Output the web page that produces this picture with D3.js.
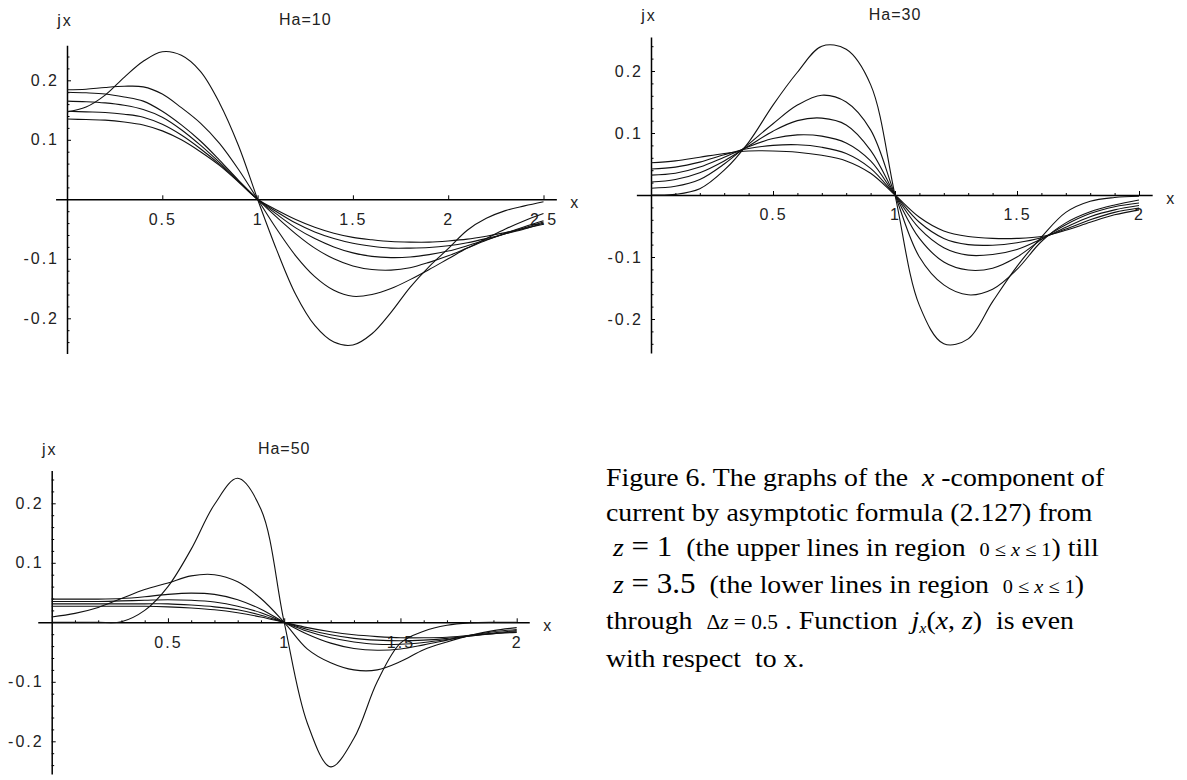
<!DOCTYPE html>
<html>
<head>
<meta charset="utf-8">
<script src="https://cdn.jsdelivr.net/npm/d3@7"></script>
<style>
  html, body { margin: 0; padding: 0; background: #fff; }
  svg { display: block; }
  .tick text, .lbl { font-family: "Liberation Sans", Arial, sans-serif; font-size: 16px; letter-spacing: 2px; fill: #222; }
  .domain { stroke: #000; stroke-width: 1.5px; }
  .tick line { stroke: #000; stroke-width: 1px; }
  .curve { fill: none; stroke: #111; stroke-width: 1.1px; }
  .caption { font-family: "Liberation Serif", "Times New Roman", serif; font-size: 26px; fill: #000; }
</style>
</head>
<body>
<svg id="chart" width="1187" height="780"></svg>
<script>
// x grids of the sampled curves
const xs25 = [0, 0.1, 0.2, 0.3, 0.4, 0.5, 0.6, 0.7, 0.8, 0.9, 1, 1.1, 1.2, 1.3, 1.4, 1.5, 1.6, 1.7, 1.8, 1.9, 2, 2.1, 2.2, 2.3, 2.4, 2.5];
const xs20 = [0, 0.1, 0.2, 0.3, 0.4, 0.5, 0.6, 0.7, 0.8, 0.9, 1, 1.1, 1.2, 1.3, 1.4, 1.5, 1.6, 1.7, 1.8, 1.9, 2];

// Ha=10, z = 1 .. 3.5
const ha10_z10 = [0.147, 0.155, 0.175, 0.205, 0.232, 0.248, 0.242, 0.215, 0.162, 0.09, 0, -0.085, -0.16, -0.212, -0.24, -0.245, -0.226, -0.19, -0.148, -0.113, -0.083, -0.052, -0.032, -0.019, -0.011, -0.004];
const ha10_z15 = [0.184, 0.185, 0.188, 0.19, 0.189, 0.177, 0.154, 0.128, 0.094, 0.05, 0, -0.05, -0.095, -0.13, -0.153, -0.163, -0.16, -0.15, -0.135, -0.118, -0.1, -0.082, -0.066, -0.05, -0.036, -0.024];
const ha10_z20 = [0.18, 0.179, 0.177, 0.172, 0.165, 0.148, 0.125, 0.098, 0.066, 0.032, 0, -0.03, -0.058, -0.082, -0.1, -0.112, -0.118, -0.119, -0.115, -0.106, -0.095, -0.082, -0.069, -0.057, -0.046, -0.036];
const ha10_z25 = [0.165, 0.164, 0.162, 0.158, 0.151, 0.138, 0.117, 0.091, 0.062, 0.031, 0, -0.025, -0.048, -0.066, -0.08, -0.09, -0.096, -0.098, -0.097, -0.093, -0.087, -0.078, -0.068, -0.058, -0.048, -0.038];
const ha10_z30 = [0.148, 0.147, 0.146, 0.143, 0.138, 0.126, 0.108, 0.085, 0.059, 0.03, 0, -0.021, -0.04, -0.055, -0.066, -0.074, -0.079, -0.082, -0.082, -0.081, -0.078, -0.073, -0.066, -0.058, -0.05, -0.04];
const ha10_z35 = [0.135, 0.134, 0.133, 0.13, 0.125, 0.115, 0.1, 0.08, 0.057, 0.029, 0, -0.018, -0.034, -0.047, -0.057, -0.064, -0.068, -0.071, -0.072, -0.072, -0.07, -0.067, -0.062, -0.056, -0.049, -0.042];

// Ha=30
const ha30_z10 = [0, 0.001, 0.01, 0.04, 0.085, 0.145, 0.198, 0.24, 0.235, 0.178, 0, -0.178, -0.24, -0.232, -0.172, -0.115, -0.068, -0.028, -0.01, -0.004, -0.002];
const ha30_z15 = [0.011, 0.014, 0.025, 0.05, 0.082, 0.115, 0.145, 0.161, 0.15, 0.105, 0, -0.1, -0.145, -0.161, -0.152, -0.12, -0.075, -0.045, -0.027, -0.016, -0.008];
const ha30_z20 = [0.021, 0.025, 0.036, 0.055, 0.079, 0.103, 0.12, 0.124, 0.113, 0.072, 0, -0.07, -0.108, -0.121, -0.118, -0.1, -0.072, -0.048, -0.03, -0.019, -0.013];
const ha30_z25 = [0.032, 0.035, 0.045, 0.061, 0.078, 0.091, 0.097, 0.095, 0.084, 0.055, 0, -0.054, -0.085, -0.097, -0.096, -0.088, -0.071, -0.052, -0.035, -0.024, -0.017];
const ha30_z30 = [0.042, 0.045, 0.053, 0.065, 0.075, 0.08, 0.081, 0.077, 0.067, 0.043, 0, -0.044, -0.07, -0.08, -0.081, -0.077, -0.069, -0.055, -0.04, -0.028, -0.021];
const ha30_z35 = [0.052, 0.055, 0.061, 0.067, 0.071, 0.071, 0.069, 0.064, 0.055, 0.035, 0, -0.036, -0.058, -0.067, -0.07, -0.07, -0.067, -0.057, -0.044, -0.032, -0.024];

// Ha=50
const ha50_z10 = [0, 0, 0, 0.001, 0.02, 0.06, 0.123, 0.198, 0.242, 0.19, 0, -0.17, -0.243, -0.195, -0.1, -0.035, -0.015, -0.005, -0.001, 0, 0];
const ha50_z15 = [0.009, 0.015, 0.025, 0.04, 0.055, 0.066, 0.078, 0.08, 0.068, 0.04, 0, -0.045, -0.068, -0.08, -0.08, -0.066, -0.046, -0.033, -0.022, -0.014, -0.009];
const ha50_z20 = [0.039, 0.039, 0.039, 0.04, 0.043, 0.047, 0.049, 0.047, 0.038, 0.022, 0, -0.02, -0.035, -0.044, -0.047, -0.045, -0.038, -0.03, -0.022, -0.016, -0.012];
const ha50_z25 = [0.035, 0.035, 0.035, 0.036, 0.037, 0.038, 0.037, 0.034, 0.027, 0.016, 0, -0.015, -0.026, -0.033, -0.037, -0.037, -0.034, -0.029, -0.023, -0.018, -0.014];
const ha50_z30 = [0.031, 0.031, 0.031, 0.031, 0.031, 0.031, 0.029, 0.026, 0.021, 0.012, 0, -0.012, -0.021, -0.027, -0.03, -0.031, -0.03, -0.027, -0.023, -0.019, -0.016];
const ha50_z35 = [0.027, 0.027, 0.027, 0.027, 0.027, 0.026, 0.024, 0.021, 0.016, 0.009, 0, -0.009, -0.016, -0.021, -0.024, -0.026, -0.026, -0.025, -0.022, -0.019, -0.017];

// ticks
const xTicks25 = [0.5, 1, 1.5, 2, 2.5];
const xTicks20 = [0.5, 1, 1.5, 2];
const xMinor20 = [0.1, 0.2, 0.3, 0.4, 0.6, 0.7, 0.8, 0.9, 1.1, 1.2, 1.3, 1.4, 1.6, 1.7, 1.8, 1.9];
const yTicks = [-0.2, -0.1, 0.1, 0.2];
const yMinor = [-0.24, -0.22, -0.18, -0.16, -0.14, -0.12, -0.08, -0.06, -0.04, -0.02, 0.02, 0.04, 0.06, 0.08, 0.12, 0.14, 0.16, 0.18, 0.22, 0.24];

const panels = [
  { title: "Ha=10", xs: xs25, series: [ha10_z10, ha10_z15, ha10_z20, ha10_z25, ha10_z30, ha10_z35],
    xMax: 2.5, left: 67, right: 543.5, zeroY: 199.3, unitY: 595, yExt: 0.259, titleDy: 26,
    xTicks: xTicks25, xMinor: [] },
  { title: "Ha=30", xs: xs20, series: [ha30_z10, ha30_z15, ha30_z20, ha30_z25, ha30_z30, ha30_z35],
    xMax: 2, left: 651, right: 1139, zeroY: 195, unitY: 620, yExt: 0.255, titleDy: 22,
    xTicks: xTicks20, xMinor: xMinor20 },
  { title: "Ha=50", xs: xs20, series: [ha50_z10, ha50_z15, ha50_z20, ha50_z25, ha50_z30, ha50_z35],
    xMax: 2, left: 51.7, right: 516.7, zeroY: 622.3, unitY: 595, yExt: 0.255, titleDy: 22,
    xTicks: xTicks20, xMinor: xMinor20 }
];

const svg = d3.select("#chart");

function drawPanel(p) {
  const g = svg.append("g");
  const x = d3.scaleLinear().domain([0, p.xMax]).range([p.left, p.right]);
  const y = d3.scaleLinear().domain([-p.yExt, p.yExt])
    .range([p.zeroY + p.yExt * p.unitY, p.zeroY - p.yExt * p.unitY]);

  // x axis runs a little past the data on both sides
  const ext = [-0.06, p.xMax * 1.027];
  const xAxisScale = d3.scaleLinear().domain(ext).range(ext.map(x));

  g.append("g")
    .attr("transform", `translate(0,${y(0)})`)
    .call(d3.axisBottom(xAxisScale).tickValues(p.xMinor).tickSizeInner(-2).tickSizeOuter(0).tickFormat(""))
    .call(a => a.select(".domain").remove());

  g.append("g")
    .attr("transform", `translate(0,${y(0)})`)
    .call(d3.axisBottom(xAxisScale).tickValues(p.xTicks).tickSizeInner(-4).tickSizeOuter(0)
      .tickPadding(14).tickFormat(d => d));

  g.append("g")
    .attr("transform", `translate(${x(0)},0)`)
    .call(d3.axisLeft(y).tickValues(yMinor).tickSizeInner(-2.5).tickSizeOuter(0).tickFormat(""))
    .call(a => a.select(".domain").remove());

  g.append("g")
    .attr("transform", `translate(${x(0)},0)`)
    .call(d3.axisLeft(y).tickValues(yTicks).tickSizeInner(-4).tickSizeOuter(0)
      .tickPadding(8).tickFormat(d => d));

  g.selectAll(".tick text").attr("fill", "#222");

  const line = d3.line()
    .x((d, i) => x(p.xs[i]))
    .y(d => y(d))
    .curve(d3.curveCatmullRom.alpha(0.5));

  g.selectAll("path.curve")
    .data(p.series)
    .enter().append("path")
    .attr("class", "curve")
    .attr("d", line);

  const top = y(p.yExt);
  g.append("text").attr("class", "lbl")
    .attr("x", x(0) - 2).attr("y", top - p.titleDy + 1)
    .attr("text-anchor", "middle").attr("dominant-baseline", "central")
    .text("jx");
  g.append("text").attr("class", "lbl")
    .attr("x", (p.left + p.right) / 2).attr("y", top - p.titleDy)
    .attr("text-anchor", "middle").attr("dominant-baseline", "central")
    .style("letter-spacing", "1px")
    .text(p.title);
  g.append("text").attr("class", "lbl")
    .attr("x", xAxisScale.range()[1] + 19).attr("y", y(0) + 3)
    .attr("text-anchor", "middle").attr("dominant-baseline", "central")
    .text("x");
}

panels.forEach(drawPanel);

// caption
const cap = svg.append("g")
  .attr("class", "caption")
  .attr("transform", "translate(606,0) scale(1.07,1)");

function capLine(yPos, parts) {
  const t = cap.append("text").attr("x", 0).attr("y", yPos).attr("xml:space", "preserve");
  parts.forEach(pt => {
    const s = t.append("tspan").text(pt.t);
    if (pt.i) s.style("font-style", "italic");
    if (pt.s) s.style("font-size", pt.s + "px");
    if (pt.dy) s.attr("dy", pt.dy);
  });
}

capLine(486, [{ t: "Figure 6. The graphs of the  " }, { t: "x", i: true }, { t: " -component of" }]);
capLine(521, [{ t: "current by asymptotic formula (2.127) from" }]);
capLine(556, [{ t: " " }, { t: "z", i: true }, { t: " = 1", s: 29 }, { t: "  (the upper lines in region  " },
  { t: "0 ≤ ", s: 19 }, { t: "x", i: true, s: 19 }, { t: " ≤ 1", s: 19 }, { t: ") till" }]);
capLine(593, [{ t: " " }, { t: "z", i: true }, { t: " = 3.5", s: 29 }, { t: "  (the lower lines in region  " },
  { t: "0 ≤ ", s: 19 }, { t: "x", i: true, s: 19 }, { t: " ≤ 1", s: 19 }, { t: ")" }]);
capLine(629, [{ t: "through  " }, { t: "Δ", s: 20 }, { t: "z", i: true, s: 20 }, { t: " = 0.5", s: 20 },
  { t: " . Function  " }, { t: "j", i: true }, { t: "x", i: true, s: 15, dy: 4 }, { t: "(", dy: -4 },
  { t: "x", i: true }, { t: ", " }, { t: "z", i: true }, { t: ")  is even" }]);
capLine(667, [{ t: "with respect  to x." }]);
</script>
</body>
</html>
